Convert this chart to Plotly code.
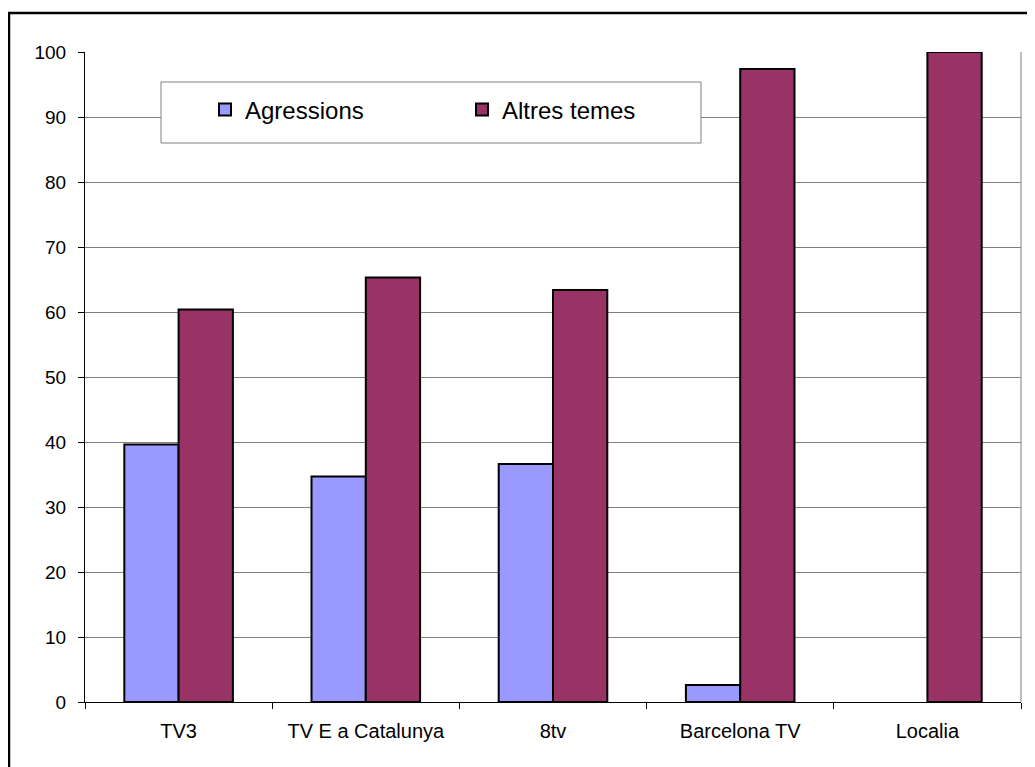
import plotly.graph_objects as go

categories = ["TV3", "TV E a Catalunya", "8tv", "Barcelona TV", "Localia"]
agressions = [39.6, 34.7, 36.6, 2.6, 0.0]
altres_temes = [60.4, 65.3, 63.4, 97.4, 100.0]
y_ticks = [0, 10, 20, 30, 40, 50, 60, 70, 80, 90, 100]

OFF = 8  # page body margin
W, H = 1035 - OFF, 767 - OFF
L, R, T, B = 85 - OFF, 1021 - OFF, 52 - OFF, 702 - OFF  # plot area in figure px


def px_x(px):  # px given in page coordinates
    return (px - OFF - L) / (R - L)


def px_y(py):
    return (B - (py - OFF)) / (B - T)


FONT = "Liberation Sans, Arial, sans-serif"

# no outline on zero-height bars
agr_line_w = [2 if v > 0 else 0 for v in agressions]
alt_line_w = [2 if v > 0 else 0 for v in altres_temes]

fig = go.Figure()
fig.add_trace(go.Bar(
    x=categories, y=agressions, name="Agressions",
    marker=dict(color="#9999FF", line=dict(color="black", width=agr_line_w)),
))
fig.add_trace(go.Bar(
    x=categories, y=altres_temes, name="Altres temes",
    marker=dict(color="#993366", line=dict(color="black", width=alt_line_w)),
))

shapes = [
    # outer chart frame (extends beyond the visible window)
    dict(type="rect", xref="paper", yref="paper",
         x0=px_x(9), x1=px_x(1060), y0=px_y(790), y1=px_y(13),
         line=dict(color="black", width=2.5), fillcolor="rgba(0,0,0,0)", layer="above"),
    # right border of plot area
    dict(type="line", xref="paper", yref="paper", x0=1, x1=1, y0=0, y1=1,
         line=dict(color="#808080", width=1)),
    # legend box
    dict(type="rect", xref="paper", yref="paper",
         x0=px_x(161), x1=px_x(701), y0=px_y(143), y1=px_y(82),
         line=dict(color="#808080", width=1), fillcolor="white", layer="above"),
]

fig.update_layout(
    width=W, height=H,
    margin=dict(l=L, r=W - R, t=T, b=H - B, pad=0),
    paper_bgcolor="white", plot_bgcolor="white",
    font=dict(family=FONT, size=19, color="black"),
    barmode="group", bargap=0.42, bargroupgap=0,
    showlegend=True,
    legend=dict(orientation="h", x=px_x(205), y=px_y(110), xanchor="left", yanchor="middle",
                bgcolor="rgba(0,0,0,0)", borderwidth=0, entrywidth=212, entrywidthmode="pixels",
                itemwidth=30, font=dict(family=FONT, size=24, color="black"),
                traceorder="normal"),
    shapes=shapes,
    xaxis=dict(showline=True, linecolor="black", linewidth=1, ticks="outside", tickson="boundaries",
               ticklen=6, tickcolor="black", showgrid=False, tickfont=dict(size=20),
               ticklabelstandoff=11),
    yaxis=dict(range=[0, 100], tickvals=y_ticks, showline=True, linecolor="black", linewidth=1,
               ticks="outside", ticklen=6, tickcolor="black", showgrid=True, gridcolor="#808080",
               gridwidth=1, zeroline=False, tickfont=dict(size=19), ticklabelstandoff=8),
)

fig.write_html("out.html")
